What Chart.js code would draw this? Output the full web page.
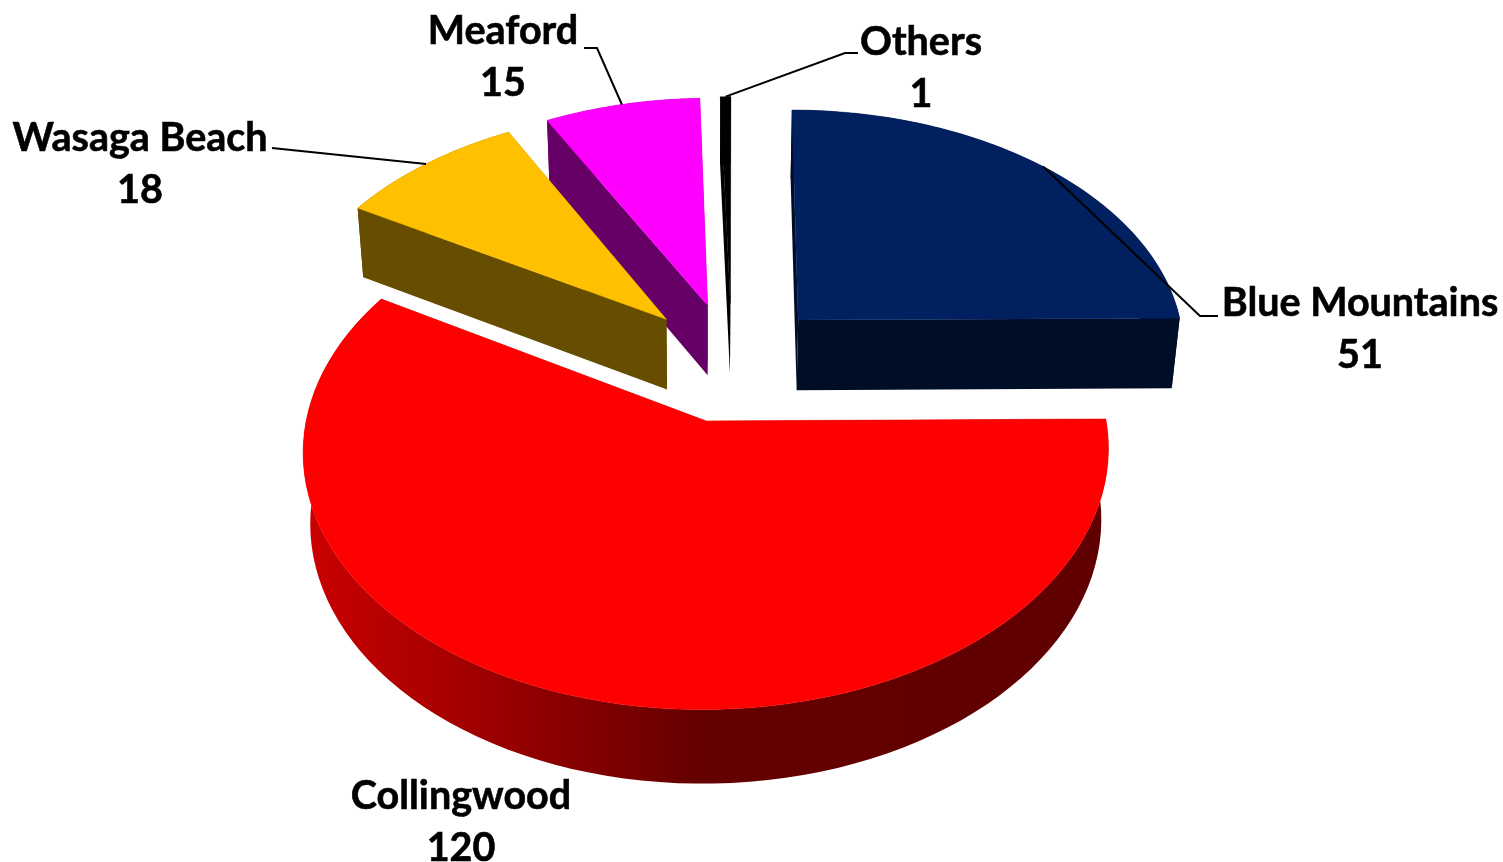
<!DOCTYPE html>
<html>
<head>
<meta charset="utf-8">
<script src="https://cdn.jsdelivr.net/npm/chart.js@4"></script>
<style>
html, body { margin: 0; padding: 0; background: #fff; }
canvas { display: block; }
</style>
</head>
<body>
<canvas id="pie3d" width="1503" height="862"></canvas>
<script>
const categories = ['Blue Mountains', 'Collingwood', 'Wasaga Beach', 'Meaford', 'Others'];
const counts = [51, 120, 18, 15, 1];

const topColors = ['#002060', '#ff0000', '#ffc000', '#ff00ff', '#000000'];
const wallColors = ['#000d26', '#660000', '#664d00', '#660066', '#000000'];
const drawOrder = [4, 3, 2, 0, 1]; // back to front

// label centre (x, y of the first line), then leader line start and elbow
const labelPos = [[1360, 303], [461, 796], [140, 138], [503, 31], [921, 42]];
const leaderFrom = [[1218, 316], null, [272, 148], [584, 48], [858, 53]];
const leaderElbow = [[1200, 316], null, null, [597, 48], [845, 53]];

// view of the pie plane
const view = {
    radius: 400, centerU: 25.6, centerV: -95.6,
    screenX: 706, screenY: 421, horizon: -1805, k: 0.000287, nadir: 4500, vanishX: 735
};

function project(u, v) {
    const d = 1 - view.k * (v + view.centerV);
    return [
        view.screenX + (u + view.centerU) / d + (view.vanishX - view.screenX) * (1 - 1 / d),
        view.horizon + (view.screenY - view.horizon) / d
    ];
}

function drop(p) {
    const h = 70 + (p[1] - 300) * 0.01;
    const t = h / (view.nadir - p[1]);
    return [p[0] + (view.screenX - p[0]) * t, p[1] + h];
}

function sliceGeometry(arc) {
    const scale = view.radius / arc.outerRadius;
    const explode = (arc.options.offset / 4) * scale;
    const mid = (arc.startAngle + arc.endAngle) / 2;
    const ou = Math.cos(mid) * explode;
    const ov = Math.sin(mid) * explode;
    const rim = [];
    const steps = 90;
    for (let i = 0; i <= steps; i++) {
        const a = arc.startAngle + (arc.endAngle - arc.startAngle) * i / steps;
        rim.push(project(ou + Math.cos(a) * view.radius, ov + Math.sin(a) * view.radius));
    }
    return {
        apex: project(ou, ov),
        rim: rim,
        midPoint: project(ou + Math.cos(mid) * view.radius, ov + Math.sin(mid) * view.radius)
    };
}

function fillPoly(ctx, pts, fill) {
    ctx.beginPath();
    pts.forEach((p, i) => i ? ctx.lineTo(p[0], p[1]) : ctx.moveTo(p[0], p[1]));
    ctx.closePath();
    ctx.fillStyle = fill;
    ctx.fill();
}

const pie3dPlugin = {
    id: 'pie3d',
    beforeDatasetsDraw(chart) {
        const ctx = chart.ctx;
        const arcs = chart.getDatasetMeta(0).data;
        const shapes = arcs.map(sliceGeometry);

        drawOrder.forEach(i => {
            const s = shapes[i];
            const rim = s.rim;
            const first = rim[0];
            const last = rim[rim.length - 1];
            let wall = wallColors[i];
            fillPoly(ctx, [s.apex, first, drop(first), drop(s.apex)], wall);
            fillPoly(ctx, [s.apex, last, drop(last), drop(s.apex)], wall);
            if (categories[i] === 'Collingwood') {
                wall = ctx.createLinearGradient(303, 0, 1106, 0);
                wall.addColorStop(0, '#cc0000');
                wall.addColorStop(0.5, '#640000');
                wall.addColorStop(1, '#600000');
            }
            fillPoly(ctx, rim.concat(rim.map(drop).reverse()), wall);
            fillPoly(ctx, [s.apex].concat(rim), arcs[i].options.backgroundColor);
            // closes the hairline seam between the top and its wall
            ctx.strokeStyle = arcs[i].options.backgroundColor;
            ctx.lineWidth = 0.5;
            ctx.stroke();
        });

        // leader lines
        ctx.strokeStyle = '#000';
        ctx.lineWidth = 2;
        categories.forEach((name, i) => {
            if (!leaderFrom[i]) return;
            ctx.beginPath();
            ctx.moveTo(leaderFrom[i][0], leaderFrom[i][1]);
            if (leaderElbow[i]) ctx.lineTo(leaderElbow[i][0], leaderElbow[i][1]);
            ctx.lineTo(shapes[i].midPoint[0], shapes[i].midPoint[1]);
            ctx.stroke();
        });

        // labels
        ctx.fillStyle = '#000';
        ctx.strokeStyle = '#000';
        ctx.lineWidth = 0.6;
        ctx.font = 'bold 39.5px Lato';
        ctx.textAlign = 'center';
        ctx.textBaseline = 'middle';
        categories.forEach((name, i) => {
            const x = labelPos[i][0];
            const y = labelPos[i][1];
            ctx.fillText(name, x, y);
            ctx.strokeText(name, x, y);
            ctx.fillText(String(counts[i]), x, y + 52);
            ctx.strokeText(String(counts[i]), x, y + 52);
        });
        return false; // slices are painted above, skip the flat pie
    }
};

new Chart(document.getElementById('pie3d'), {
    type: 'pie',
    data: {
        labels: categories,
        datasets: [{
            data: counts,
            backgroundColor: topColors,
            borderWidth: 0,
            offset: 285
        }]
    },
    options: {
        responsive: false,
        animation: false,
        events: [],
        plugins: {
            legend: { display: false },
            tooltip: { enabled: false }
        }
    },
    plugins: [pie3dPlugin]
});
</script>
</body>
</html>
